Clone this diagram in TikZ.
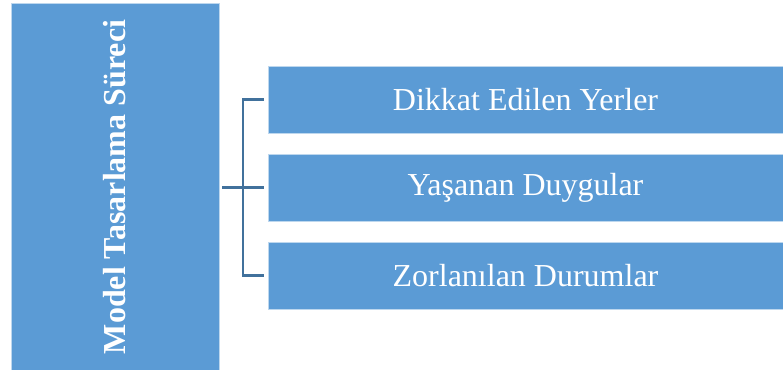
\documentclass[tikz,border=0pt]{standalone}
\usepackage{fontspec}
\setmainfont{Liberation Serif}
\usepackage{xcolor}
\definecolor{boxblue}{RGB}{91,155,213}
\definecolor{edgeblue}{RGB}{189,215,238}
\definecolor{linkblue}{RGB}{65,113,156}

\begin{document}
\begin{tikzpicture}[x=0.75pt, y=-0.75pt,
    catbox/.style={fill=boxblue, draw=edgeblue, line width=0.5pt, text=white, font=\fontsize{24}{27}\selectfont, inner sep=0pt},
    link/.style={draw=linkblue, line width=1.6pt}]
  \useasboundingbox (0,0) rectangle (783,370);
  \node (model) at (115,187) [catbox, minimum width=208*0.75pt, minimum height=367*0.75pt] {};
  \node at (model.center) [rotate=90, text=white, font=\bfseries\fontsize{24}{27}\selectfont] {Model Tasarlama Süreci};
  \node (dikkat) at (525.5,99.5) [catbox, minimum width=515*0.75pt, minimum height=67*0.75pt] {Dikkat Edilen Yerler};
  \node (duygu) at (525.5,187.5) [catbox, minimum width=515*0.75pt, minimum height=67*0.75pt] {Yaşanan Duygular};
  \node (durum) at (525.5,275.5) [catbox, minimum width=515*0.75pt, minimum height=67*0.75pt] {Zorlanılan Durumlar};
  \coordinate (fork) at (243,187.5);

  \draw[link] ([xshift=2pt]model.east |- fork) -- (fork);
  \draw[link] (fork) |- ([xshift=-3pt]dikkat.west);
  \draw[link] (fork) -- ([xshift=-3pt]duygu.west);
  \draw[link] (fork) |- ([xshift=-3pt]durum.west);
\end{tikzpicture}
\end{document}
